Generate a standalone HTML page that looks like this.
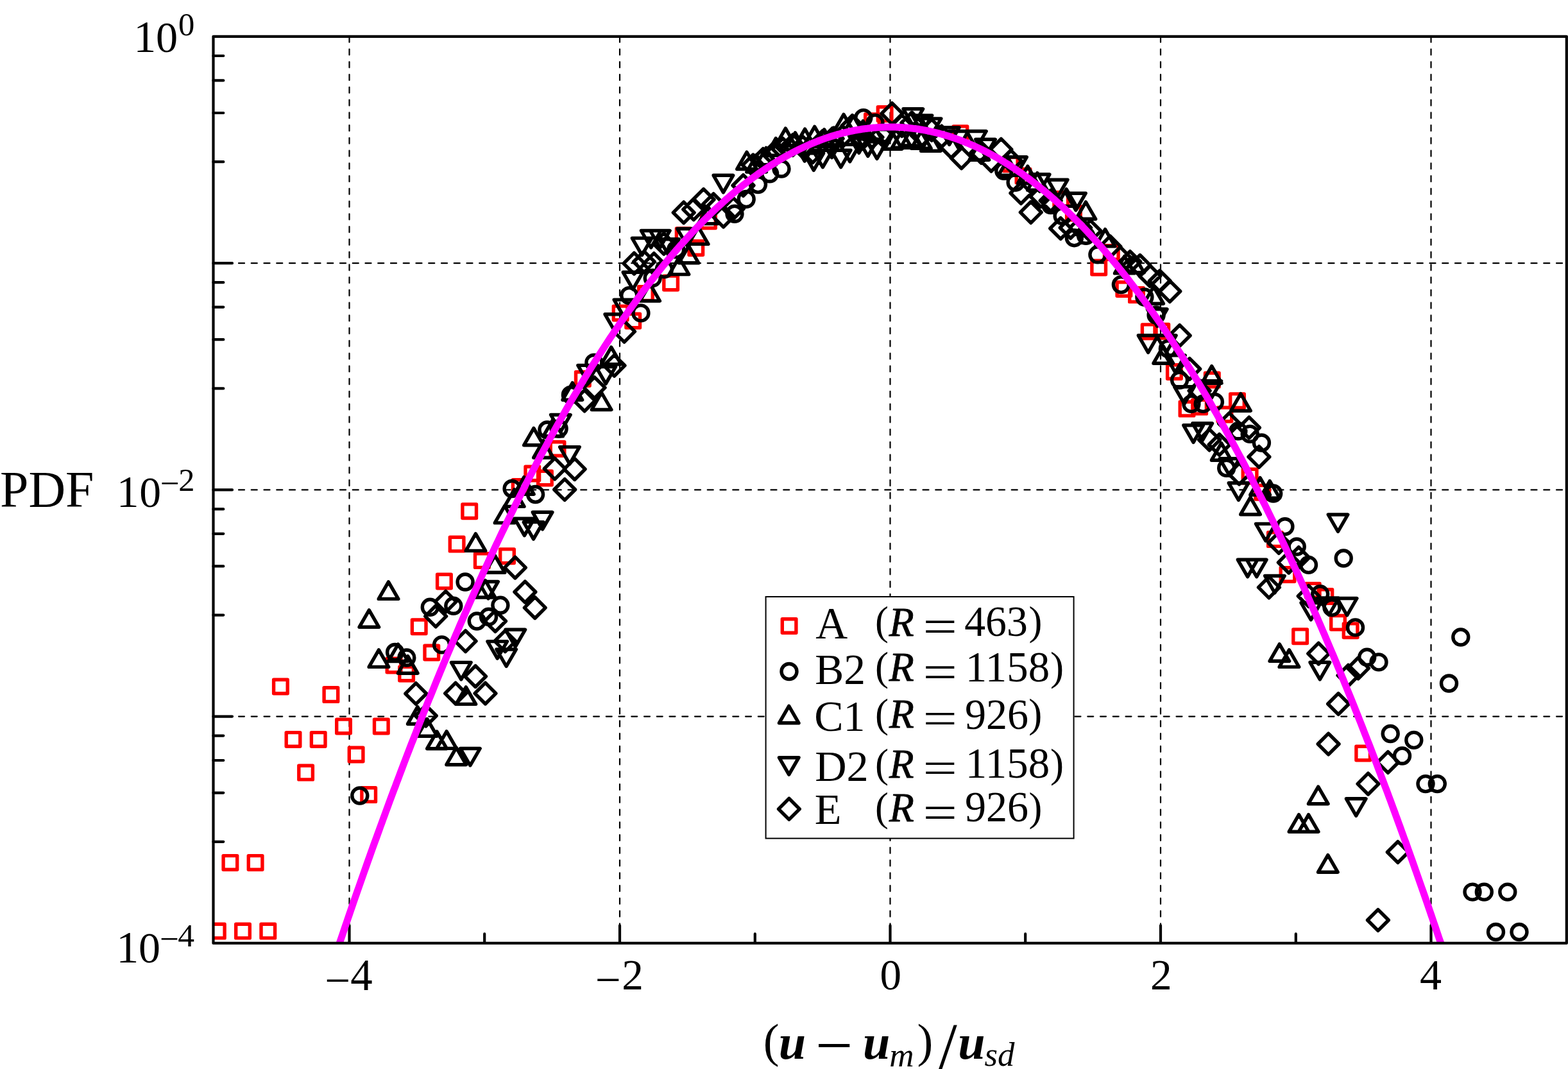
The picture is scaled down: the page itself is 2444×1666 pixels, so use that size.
<!DOCTYPE html><html><head><meta charset="utf-8"><title>PDF plot</title><style>html,body{margin:0;padding:0;background:#fff;overflow:hidden}svg{display:block}text{font-family:"Liberation Serif","Times New Roman",serif;fill:#000}</style></head><body>
<svg width="2444" height="1666" viewBox="0 0 2444 1666">
<rect width="2444" height="1666" fill="#fff"/>
<path d="M544.5 56.8V1469.9M966.0 56.8V1469.9M1387.5 56.8V1469.9M1809.0 56.8V1469.9M2230.5 56.8V1469.9" stroke="#000" stroke-width="2.2" stroke-dasharray="9 10.75" stroke-linecap="round" fill="none"/>
<path d="M332.5 410.2H2441.8M332.5 763.4H2441.8M332.5 1116.6H2441.8" stroke="#000" stroke-width="2.2" stroke-dasharray="9 10.75" stroke-linecap="round" fill="none"/>
<path d="M544.5 1469.9V1442.4M966.0 1469.9V1442.4M1387.5 1469.9V1442.4M1809.0 1469.9V1442.4M2230.5 1469.9V1442.4M755.2 1469.9V1455.4M1176.8 1469.9V1455.4M1598.2 1469.9V1455.4M2019.8 1469.9V1455.4M332.5 87.0H348.3M332.5 125.4H348.3M332.5 176.0H348.3M332.5 252.2H348.3M332.5 410.2H362.0M332.5 440.2H348.3M332.5 478.6H348.3M332.5 529.2H348.3M332.5 605.4H348.3M332.5 763.4H362.0M332.5 793.4H348.3M332.5 831.8H348.3M332.5 882.4H348.3M332.5 958.6H348.3M332.5 1116.6H362.0M332.5 1146.6H348.3M332.5 1185.0H348.3M332.5 1235.6H348.3M332.5 1311.8H348.3" stroke="#000" stroke-width="4.2" stroke-linecap="round" fill="none"/>
<clipPath id="pc"><rect x="332.5" y="56.8" width="2109.3" height="1413.1"/></clipPath>
<g clip-path="url(#pc)" fill="none" stroke-width="5.4" stroke-linejoin="round">
<path stroke="#ff0000" d="M328.5 1440.3h21.6v21.6h-21.6zM348.1 1333.6h21.6v21.6h-21.6zM367.7 1440.3h21.6v21.6h-21.6zM387.3 1333.6h21.6v21.6h-21.6zM407.0 1440.3h21.6v21.6h-21.6zM426.6 1059.2h21.6v21.6h-21.6zM446.2 1141.6h21.6v21.6h-21.6zM465.8 1193.3h21.6v21.6h-21.6zM485.4 1141.6h21.6v21.6h-21.6zM505.1 1071.8h21.6v21.6h-21.6zM524.7 1121.1h21.6v21.6h-21.6zM544.3 1165.2h21.6v21.6h-21.6zM563.9 1227.8h21.6v21.6h-21.6zM583.5 1121.1h21.6v21.6h-21.6zM603.2 1026.2h21.6v21.6h-21.6zM622.8 1039.2h21.6v21.6h-21.6zM642.4 966.0h21.6v21.6h-21.6zM662.0 1006.2h21.6v21.6h-21.6zM681.6 895.2h21.6v21.6h-21.6zM701.3 837.3h21.6v21.6h-21.6zM720.9 785.9h21.6v21.6h-21.6zM740.5 862.8h21.6v21.6h-21.6zM779.7 855.9h21.6v21.6h-21.6zM799.4 747.7h21.6v21.6h-21.6zM819.0 727.2h21.6v21.6h-21.6zM838.6 734.2h21.6v21.6h-21.6zM858.2 688.7h21.6v21.6h-21.6zM897.5 579.7h21.6v21.6h-21.6zM956.3 477.1h21.6v21.6h-21.6zM975.9 489.2h21.6v21.6h-21.6zM995.6 446.8h21.6v21.6h-21.6zM1034.8 430.1h21.6v21.6h-21.6zM1054.4 355.9h21.6v21.6h-21.6zM1074.0 375.6h21.6v21.6h-21.6zM1093.7 333.9h21.6v21.6h-21.6zM1348.7 177.9h21.6v21.6h-21.6zM1368.3 166.7h21.6v21.6h-21.6zM1486.1 196.9h21.6v21.6h-21.6zM1564.5 245.0h21.6v21.6h-21.6zM1584.2 263.5h21.6v21.6h-21.6zM1643.0 299.7h21.6v21.6h-21.6zM1662.6 321.2h21.6v21.6h-21.6zM1701.9 406.2h21.6v21.6h-21.6zM1721.5 382.7h21.6v21.6h-21.6zM1741.1 439.7h21.6v21.6h-21.6zM1760.7 448.8h21.6v21.6h-21.6zM1780.4 505.9h21.6v21.6h-21.6zM1800.0 505.4h21.6v21.6h-21.6zM1819.6 568.7h21.6v21.6h-21.6zM1839.2 626.3h21.6v21.6h-21.6zM1858.8 623.3h21.6v21.6h-21.6zM1878.5 581.3h21.6v21.6h-21.6zM1898.1 635.2h21.6v21.6h-21.6zM1917.7 613.9h21.6v21.6h-21.6zM1937.3 731.3h21.6v21.6h-21.6zM1956.9 756.5h21.6v21.6h-21.6zM1976.6 829.8h21.6v21.6h-21.6zM1996.2 884.7h21.6v21.6h-21.6zM2015.8 980.9h21.6v21.6h-21.6zM2035.4 909.4h21.6v21.6h-21.6zM2055.0 918.8h21.6v21.6h-21.6zM2074.7 959.5h21.6v21.6h-21.6zM2094.3 971.9h21.6v21.6h-21.6zM2113.9 1163.2h21.6v21.6h-21.6z"/>
<path stroke="#000" d="M548.8 1240.0a12.0 12.0 0 1 0 24.0 0a12.0 12.0 0 1 0 -24.0 0zM603.6 1016.5a12.0 12.0 0 1 0 24.0 0a12.0 12.0 0 1 0 -24.0 0zM621.8 1025.0a12.0 12.0 0 1 0 24.0 0a12.0 12.0 0 1 0 -24.0 0zM658.3 946.3a12.0 12.0 0 1 0 24.0 0a12.0 12.0 0 1 0 -24.0 0zM676.6 1004.9a12.0 12.0 0 1 0 24.0 0a12.0 12.0 0 1 0 -24.0 0zM694.8 944.3a12.0 12.0 0 1 0 24.0 0a12.0 12.0 0 1 0 -24.0 0zM713.1 907.0a12.0 12.0 0 1 0 24.0 0a12.0 12.0 0 1 0 -24.0 0zM731.3 968.0a12.0 12.0 0 1 0 24.0 0a12.0 12.0 0 1 0 -24.0 0zM749.6 961.3a12.0 12.0 0 1 0 24.0 0a12.0 12.0 0 1 0 -24.0 0zM767.9 943.3a12.0 12.0 0 1 0 24.0 0a12.0 12.0 0 1 0 -24.0 0zM786.1 761.5a12.0 12.0 0 1 0 24.0 0a12.0 12.0 0 1 0 -24.0 0zM822.6 770.5a12.0 12.0 0 1 0 24.0 0a12.0 12.0 0 1 0 -24.0 0zM840.9 670.0a12.0 12.0 0 1 0 24.0 0a12.0 12.0 0 1 0 -24.0 0zM859.1 668.0a12.0 12.0 0 1 0 24.0 0a12.0 12.0 0 1 0 -24.0 0zM877.4 615.4a12.0 12.0 0 1 0 24.0 0a12.0 12.0 0 1 0 -24.0 0zM913.9 565.2a12.0 12.0 0 1 0 24.0 0a12.0 12.0 0 1 0 -24.0 0zM968.7 460.6a12.0 12.0 0 1 0 24.0 0a12.0 12.0 0 1 0 -24.0 0zM986.9 487.9a12.0 12.0 0 1 0 24.0 0a12.0 12.0 0 1 0 -24.0 0zM1005.2 433.3a12.0 12.0 0 1 0 24.0 0a12.0 12.0 0 1 0 -24.0 0zM1023.4 419.7a12.0 12.0 0 1 0 24.0 0a12.0 12.0 0 1 0 -24.0 0zM1041.7 388.9a12.0 12.0 0 1 0 24.0 0a12.0 12.0 0 1 0 -24.0 0zM1133.0 333.3a12.0 12.0 0 1 0 24.0 0a12.0 12.0 0 1 0 -24.0 0zM1151.2 310.4a12.0 12.0 0 1 0 24.0 0a12.0 12.0 0 1 0 -24.0 0zM1169.5 287.6a12.0 12.0 0 1 0 24.0 0a12.0 12.0 0 1 0 -24.0 0zM1187.7 270.8a12.0 12.0 0 1 0 24.0 0a12.0 12.0 0 1 0 -24.0 0zM1206.0 263.0a12.0 12.0 0 1 0 24.0 0a12.0 12.0 0 1 0 -24.0 0zM1333.8 183.6a12.0 12.0 0 1 0 24.0 0a12.0 12.0 0 1 0 -24.0 0zM1352.0 191.4a12.0 12.0 0 1 0 24.0 0a12.0 12.0 0 1 0 -24.0 0zM1552.8 266.3a12.0 12.0 0 1 0 24.0 0a12.0 12.0 0 1 0 -24.0 0zM1571.1 284.2a12.0 12.0 0 1 0 24.0 0a12.0 12.0 0 1 0 -24.0 0zM1625.8 319.5a12.0 12.0 0 1 0 24.0 0a12.0 12.0 0 1 0 -24.0 0zM1644.1 336.6a12.0 12.0 0 1 0 24.0 0a12.0 12.0 0 1 0 -24.0 0zM1662.4 370.7a12.0 12.0 0 1 0 24.0 0a12.0 12.0 0 1 0 -24.0 0zM1680.6 367.3a12.0 12.0 0 1 0 24.0 0a12.0 12.0 0 1 0 -24.0 0zM1698.9 396.8a12.0 12.0 0 1 0 24.0 0a12.0 12.0 0 1 0 -24.0 0zM1735.4 443.6a12.0 12.0 0 1 0 24.0 0a12.0 12.0 0 1 0 -24.0 0zM1771.9 463.0a12.0 12.0 0 1 0 24.0 0a12.0 12.0 0 1 0 -24.0 0zM1790.1 491.0a12.0 12.0 0 1 0 24.0 0a12.0 12.0 0 1 0 -24.0 0zM1808.4 543.4a12.0 12.0 0 1 0 24.0 0a12.0 12.0 0 1 0 -24.0 0zM1826.6 592.3a12.0 12.0 0 1 0 24.0 0a12.0 12.0 0 1 0 -24.0 0zM1844.9 629.4a12.0 12.0 0 1 0 24.0 0a12.0 12.0 0 1 0 -24.0 0zM1863.2 629.4a12.0 12.0 0 1 0 24.0 0a12.0 12.0 0 1 0 -24.0 0zM1881.4 626.4a12.0 12.0 0 1 0 24.0 0a12.0 12.0 0 1 0 -24.0 0zM1899.7 729.4a12.0 12.0 0 1 0 24.0 0a12.0 12.0 0 1 0 -24.0 0zM1917.9 671.8a12.0 12.0 0 1 0 24.0 0a12.0 12.0 0 1 0 -24.0 0zM1936.2 676.4a12.0 12.0 0 1 0 24.0 0a12.0 12.0 0 1 0 -24.0 0zM1954.4 690.0a12.0 12.0 0 1 0 24.0 0a12.0 12.0 0 1 0 -24.0 0zM1972.7 769.0a12.0 12.0 0 1 0 24.0 0a12.0 12.0 0 1 0 -24.0 0zM1990.9 820.7a12.0 12.0 0 1 0 24.0 0a12.0 12.0 0 1 0 -24.0 0zM2009.2 852.0a12.0 12.0 0 1 0 24.0 0a12.0 12.0 0 1 0 -24.0 0zM2027.5 880.4a12.0 12.0 0 1 0 24.0 0a12.0 12.0 0 1 0 -24.0 0zM2045.7 925.8a12.0 12.0 0 1 0 24.0 0a12.0 12.0 0 1 0 -24.0 0zM2064.0 946.7a12.0 12.0 0 1 0 24.0 0a12.0 12.0 0 1 0 -24.0 0zM2082.2 870.0a12.0 12.0 0 1 0 24.0 0a12.0 12.0 0 1 0 -24.0 0zM2100.5 977.9a12.0 12.0 0 1 0 24.0 0a12.0 12.0 0 1 0 -24.0 0zM2118.7 1024.3a12.0 12.0 0 1 0 24.0 0a12.0 12.0 0 1 0 -24.0 0zM2137.0 1031.9a12.0 12.0 0 1 0 24.0 0a12.0 12.0 0 1 0 -24.0 0zM2155.2 1143.5a12.0 12.0 0 1 0 24.0 0a12.0 12.0 0 1 0 -24.0 0zM2173.5 1178.0a12.0 12.0 0 1 0 24.0 0a12.0 12.0 0 1 0 -24.0 0zM2191.8 1153.4a12.0 12.0 0 1 0 24.0 0a12.0 12.0 0 1 0 -24.0 0zM2210.0 1221.6a12.0 12.0 0 1 0 24.0 0a12.0 12.0 0 1 0 -24.0 0zM2228.3 1221.6a12.0 12.0 0 1 0 24.0 0a12.0 12.0 0 1 0 -24.0 0zM2246.5 1065.0a12.0 12.0 0 1 0 24.0 0a12.0 12.0 0 1 0 -24.0 0zM2264.8 993.0a12.0 12.0 0 1 0 24.0 0a12.0 12.0 0 1 0 -24.0 0zM2283.0 1390.1a12.0 12.0 0 1 0 24.0 0a12.0 12.0 0 1 0 -24.0 0zM2301.3 1390.1a12.0 12.0 0 1 0 24.0 0a12.0 12.0 0 1 0 -24.0 0zM2319.5 1452.5a12.0 12.0 0 1 0 24.0 0a12.0 12.0 0 1 0 -24.0 0zM2337.8 1390.1a12.0 12.0 0 1 0 24.0 0a12.0 12.0 0 1 0 -24.0 0zM2356.0 1452.5a12.0 12.0 0 1 0 24.0 0a12.0 12.0 0 1 0 -24.0 0z"/>
<path stroke="#000" d="M575.3 950.8l15.30 26.50h-30.6zM590.4 1012.9l15.30 26.50h-30.6zM605.5 906.9l15.30 26.50h-30.6zM620.6 1004.0l15.30 26.50h-30.6zM635.7 1022.7l15.30 26.50h-30.6zM650.8 1101.7l15.30 26.50h-30.6zM665.9 1120.7l15.30 26.50h-30.6zM681.0 1140.2l15.30 26.50h-30.6zM696.1 1139.9l15.30 26.50h-30.6zM711.2 1165.2l15.30 26.50h-30.6zM726.3 1070.9l15.30 26.50h-30.6zM741.4 831.9l15.30 26.50h-30.6zM756.5 904.5l15.30 26.50h-30.6zM771.5 865.8l15.30 26.50h-30.6zM786.6 788.4l15.30 26.50h-30.6zM801.7 762.9l15.30 26.50h-30.6zM816.8 743.7l15.30 26.50h-30.6zM831.9 667.3l15.30 26.50h-30.6zM847.0 686.7l15.30 26.50h-30.6zM862.1 653.3l15.30 26.50h-30.6zM892.3 596.7l15.30 26.50h-30.6zM937.6 612.0l15.30 26.50h-30.6zM952.7 541.2l15.30 26.50h-30.6zM1013.1 442.5l15.30 26.50h-30.6zM1058.4 401.1l15.30 26.50h-30.6zM1073.5 383.3l15.30 26.50h-30.6zM1088.6 353.9l15.30 26.50h-30.6zM1103.7 322.1l15.30 26.50h-30.6zM1164.0 237.0l15.30 26.50h-30.6zM1179.1 241.5l15.30 26.50h-30.6zM1194.2 230.3l15.30 26.50h-30.6zM1209.3 215.7l15.30 26.50h-30.6zM1224.4 200.1l15.30 26.50h-30.6zM1239.5 206.8l15.30 26.50h-30.6zM1254.6 201.2l15.30 26.50h-30.6zM1269.7 197.3l15.30 26.50h-30.6zM1284.8 201.8l15.30 26.50h-30.6zM1299.9 199.0l15.30 26.50h-30.6zM1315.0 178.3l15.30 26.50h-30.6zM1330.1 180.5l15.30 26.50h-30.6zM1345.2 188.7l15.30 26.50h-30.6zM1390.5 205.7l15.30 26.50h-30.6zM1405.6 203.8l15.30 26.50h-30.6zM1420.7 200.5l15.30 26.50h-30.6zM1435.8 204.7l15.30 26.50h-30.6zM1450.9 208.7l15.30 26.50h-30.6zM1526.3 222.7l15.30 26.50h-30.6zM1571.6 246.7l15.30 26.50h-30.6zM1601.8 259.2l15.30 26.50h-30.6zM1616.9 269.7l15.30 26.50h-30.6zM1662.2 294.9l15.30 26.50h-30.6zM1692.4 314.8l15.30 26.50h-30.6zM1722.6 357.4l15.30 26.50h-30.6zM1752.8 399.4l15.30 26.50h-30.6zM1767.9 398.3l15.30 26.50h-30.6zM1798.1 446.7l15.30 26.50h-30.6zM1813.2 539.7l15.30 26.50h-30.6zM1888.7 570.7l15.30 26.50h-30.6zM1903.7 690.7l15.30 26.50h-30.6zM1933.9 613.7l15.30 26.50h-30.6zM1949.0 775.2l15.30 26.50h-30.6zM1964.1 744.7l15.30 26.50h-30.6zM1979.2 749.7l15.30 26.50h-30.6zM1994.3 1003.8l15.30 26.50h-30.6zM2009.4 1012.9l15.30 26.50h-30.6zM2024.5 1269.7l15.30 26.50h-30.6zM2039.6 1269.7l15.30 26.50h-30.6zM2054.7 1226.2l15.30 26.50h-30.6zM2069.8 1332.7l15.30 26.50h-30.6z"/>
<path stroke="#000" d="M718.8 1058.9l15.30 -26.50h-30.6zM732.9 1193.0l15.30 -26.50h-30.6zM761.1 933.0l15.30 -26.50h-30.6zM775.2 1026.1l15.30 -26.50h-30.6zM789.2 1038.5l15.30 -26.50h-30.6zM803.3 1007.8l15.30 -26.50h-30.6zM817.4 834.7l15.30 -26.50h-30.6zM831.5 840.1l15.30 -26.50h-30.6zM845.6 824.8l15.30 -26.50h-30.6zM873.8 673.0l15.30 -26.50h-30.6zM887.9 723.1l15.30 -26.50h-30.6zM916.1 595.9l15.30 -26.50h-30.6zM944.2 598.1l15.30 -26.50h-30.6zM958.3 516.3l15.30 -26.50h-30.6zM972.4 493.6l15.30 -26.50h-30.6zM986.5 450.8l15.30 -26.50h-30.6zM1000.6 397.6l15.30 -26.50h-30.6zM1014.7 386.0l15.30 -26.50h-30.6zM1028.8 386.0l15.30 -26.50h-30.6zM1042.9 399.2l15.30 -26.50h-30.6zM1071.0 383.0l15.30 -26.50h-30.6zM1127.4 299.8l15.30 -26.50h-30.6zM1254.2 251.2l15.30 -26.50h-30.6zM1268.3 265.3l15.30 -26.50h-30.6zM1282.4 260.7l15.30 -26.50h-30.6zM1296.5 245.6l15.30 -26.50h-30.6zM1310.6 260.7l15.30 -26.50h-30.6zM1324.7 251.8l15.30 -26.50h-30.6zM1338.8 238.3l15.30 -26.50h-30.6zM1352.8 243.4l15.30 -26.50h-30.6zM1366.9 247.3l15.30 -26.50h-30.6zM1381.0 228.3l15.30 -26.50h-30.6zM1423.3 196.3l15.30 -26.50h-30.6zM1437.4 206.4l15.30 -26.50h-30.6zM1451.5 211.4l15.30 -26.50h-30.6zM1479.7 225.3l15.30 -26.50h-30.6zM1493.8 231.0l15.30 -26.50h-30.6zM1521.9 231.0l15.30 -26.50h-30.6zM1536.0 243.8l15.30 -26.50h-30.6zM1585.0 271.3l15.30 -26.50h-30.6zM1620.6 298.3l15.30 -26.50h-30.6zM1648.7 306.7l15.30 -26.50h-30.6zM1676.9 327.7l15.30 -26.50h-30.6zM1789.6 549.3l15.30 -26.50h-30.6zM1803.7 508.3l15.30 -26.50h-30.6zM1817.8 549.3l15.30 -26.50h-30.6zM1831.9 580.3l15.30 -26.50h-30.6zM1846.0 629.3l15.30 -26.50h-30.6zM1860.1 689.3l15.30 -26.50h-30.6zM1874.2 686.3l15.30 -26.50h-30.6zM1888.3 620.3l15.30 -26.50h-30.6zM1916.5 741.3l15.30 -26.50h-30.6zM1930.5 779.3l15.30 -26.50h-30.6zM1944.6 898.8l15.30 -26.50h-30.6zM1958.7 898.8l15.30 -26.50h-30.6zM1972.8 842.9l15.30 -26.50h-30.6zM1986.9 924.0l15.30 -26.50h-30.6zM2043.3 966.0l15.30 -26.50h-30.6zM2057.3 1058.8l15.30 -26.50h-30.6zM2071.4 958.5l15.30 -26.50h-30.6zM2085.5 828.5l15.30 -26.50h-30.6zM2099.6 959.0l15.30 -26.50h-30.6zM2113.7 1271.3l15.30 -26.50h-30.6z"/>
<path stroke="#000" d="M648.3 1064.6l16.4 16.4l-16.4 16.4l-16.4 -16.4zM663.8 1099.1l16.4 16.4l-16.4 16.4l-16.4 -16.4zM679.2 944.0l16.4 16.4l-16.4 16.4l-16.4 -16.4zM694.7 921.3l16.4 16.4l-16.4 16.4l-16.4 -16.4zM710.1 1064.2l16.4 16.4l-16.4 16.4l-16.4 -16.4zM725.6 982.8l16.4 16.4l-16.4 16.4l-16.4 -16.4zM741.1 1037.7l16.4 16.4l-16.4 16.4l-16.4 -16.4zM756.5 1064.2l16.4 16.4l-16.4 16.4l-16.4 -16.4zM772.0 951.6l16.4 16.4l-16.4 16.4l-16.4 -16.4zM787.4 982.8l16.4 16.4l-16.4 16.4l-16.4 -16.4zM802.9 868.2l16.4 16.4l-16.4 16.4l-16.4 -16.4zM818.4 906.1l16.4 16.4l-16.4 16.4l-16.4 -16.4zM833.8 930.7l16.4 16.4l-16.4 16.4l-16.4 -16.4zM864.7 714.1l16.4 16.4l-16.4 16.4l-16.4 -16.4zM880.2 746.6l16.4 16.4l-16.4 16.4l-16.4 -16.4zM895.7 714.7l16.4 16.4l-16.4 16.4l-16.4 -16.4zM911.1 608.1l16.4 16.4l-16.4 16.4l-16.4 -16.4zM926.6 587.8l16.4 16.4l-16.4 16.4l-16.4 -16.4zM957.5 553.3l16.4 16.4l-16.4 16.4l-16.4 -16.4zM973.0 500.3l16.4 16.4l-16.4 16.4l-16.4 -16.4zM988.4 394.2l16.4 16.4l-16.4 16.4l-16.4 -16.4zM1003.9 391.6l16.4 16.4l-16.4 16.4l-16.4 -16.4zM1019.3 394.7l16.4 16.4l-16.4 16.4l-16.4 -16.4zM1034.8 363.4l16.4 16.4l-16.4 16.4l-16.4 -16.4zM1065.7 314.9l16.4 16.4l-16.4 16.4l-16.4 -16.4zM1081.2 309.9l16.4 16.4l-16.4 16.4l-16.4 -16.4zM1096.6 294.6l16.4 16.4l-16.4 16.4l-16.4 -16.4zM1112.1 301.8l16.4 16.4l-16.4 16.4l-16.4 -16.4zM1127.6 321.0l16.4 16.4l-16.4 16.4l-16.4 -16.4zM1143.0 308.6l16.4 16.4l-16.4 16.4l-16.4 -16.4zM1158.5 272.6l16.4 16.4l-16.4 16.4l-16.4 -16.4zM1173.9 241.0l16.4 16.4l-16.4 16.4l-16.4 -16.4zM1189.4 231.6l16.4 16.4l-16.4 16.4l-16.4 -16.4zM1204.9 223.6l16.4 16.4l-16.4 16.4l-16.4 -16.4zM1220.3 215.6l16.4 16.4l-16.4 16.4l-16.4 -16.4zM1235.8 209.6l16.4 16.4l-16.4 16.4l-16.4 -16.4zM1251.2 212.6l16.4 16.4l-16.4 16.4l-16.4 -16.4zM1266.7 220.8l16.4 16.4l-16.4 16.4l-16.4 -16.4zM1282.2 203.6l16.4 16.4l-16.4 16.4l-16.4 -16.4zM1297.6 199.6l16.4 16.4l-16.4 16.4l-16.4 -16.4zM1313.1 196.2l16.4 16.4l-16.4 16.4l-16.4 -16.4zM1328.5 179.6l16.4 16.4l-16.4 16.4l-16.4 -16.4zM1344.0 199.6l16.4 16.4l-16.4 16.4l-16.4 -16.4zM1359.5 197.4l16.4 16.4l-16.4 16.4l-16.4 -16.4zM1374.9 193.6l16.4 16.4l-16.4 16.4l-16.4 -16.4zM1390.4 160.6l16.4 16.4l-16.4 16.4l-16.4 -16.4zM1405.8 179.6l16.4 16.4l-16.4 16.4l-16.4 -16.4zM1421.3 175.0l16.4 16.4l-16.4 16.4l-16.4 -16.4zM1436.8 194.6l16.4 16.4l-16.4 16.4l-16.4 -16.4zM1452.2 186.2l16.4 16.4l-16.4 16.4l-16.4 -16.4zM1467.7 196.2l16.4 16.4l-16.4 16.4l-16.4 -16.4zM1483.1 213.6l16.4 16.4l-16.4 16.4l-16.4 -16.4zM1498.6 229.8l16.4 16.4l-16.4 16.4l-16.4 -16.4zM1529.5 221.6l16.4 16.4l-16.4 16.4l-16.4 -16.4zM1545.0 234.3l16.4 16.4l-16.4 16.4l-16.4 -16.4zM1560.4 216.4l16.4 16.4l-16.4 16.4l-16.4 -16.4zM1575.9 234.6l16.4 16.4l-16.4 16.4l-16.4 -16.4zM1591.4 284.6l16.4 16.4l-16.4 16.4l-16.4 -16.4zM1606.8 314.5l16.4 16.4l-16.4 16.4l-16.4 -16.4zM1622.3 289.6l16.4 16.4l-16.4 16.4l-16.4 -16.4zM1637.7 296.3l16.4 16.4l-16.4 16.4l-16.4 -16.4zM1653.2 339.6l16.4 16.4l-16.4 16.4l-16.4 -16.4zM1668.7 338.6l16.4 16.4l-16.4 16.4l-16.4 -16.4zM1684.1 338.4l16.4 16.4l-16.4 16.4l-16.4 -16.4zM1699.6 343.6l16.4 16.4l-16.4 16.4l-16.4 -16.4zM1730.5 367.9l16.4 16.4l-16.4 16.4l-16.4 -16.4zM1746.0 385.0l16.4 16.4l-16.4 16.4l-16.4 -16.4zM1761.4 391.6l16.4 16.4l-16.4 16.4l-16.4 -16.4zM1776.9 397.5l16.4 16.4l-16.4 16.4l-16.4 -16.4zM1792.3 413.6l16.4 16.4l-16.4 16.4l-16.4 -16.4zM1807.8 421.6l16.4 16.4l-16.4 16.4l-16.4 -16.4zM1823.3 437.6l16.4 16.4l-16.4 16.4l-16.4 -16.4zM1838.7 506.6l16.4 16.4l-16.4 16.4l-16.4 -16.4zM1854.2 558.6l16.4 16.4l-16.4 16.4l-16.4 -16.4zM1869.6 592.6l16.4 16.4l-16.4 16.4l-16.4 -16.4zM1885.1 669.1l16.4 16.4l-16.4 16.4l-16.4 -16.4zM1900.6 676.6l16.4 16.4l-16.4 16.4l-16.4 -16.4zM1916.0 643.6l16.4 16.4l-16.4 16.4l-16.4 -16.4zM1931.5 722.1l16.4 16.4l-16.4 16.4l-16.4 -16.4zM1946.9 650.1l16.4 16.4l-16.4 16.4l-16.4 -16.4zM1962.4 695.6l16.4 16.4l-16.4 16.4l-16.4 -16.4zM1977.9 899.0l16.4 16.4l-16.4 16.4l-16.4 -16.4zM1993.3 829.6l16.4 16.4l-16.4 16.4l-16.4 -16.4zM2008.8 860.2l16.4 16.4l-16.4 16.4l-16.4 -16.4zM2024.2 852.6l16.4 16.4l-16.4 16.4l-16.4 -16.4zM2039.7 912.6l16.4 16.4l-16.4 16.4l-16.4 -16.4zM2055.2 1002.2l16.4 16.4l-16.4 16.4l-16.4 -16.4zM2070.6 1143.1l16.4 16.4l-16.4 16.4l-16.4 -16.4zM2086.1 1080.6l16.4 16.4l-16.4 16.4l-16.4 -16.4zM2101.5 1036.3l16.4 16.4l-16.4 16.4l-16.4 -16.4zM2117.0 1025.0l16.4 16.4l-16.4 16.4l-16.4 -16.4zM2132.5 1205.2l16.4 16.4l-16.4 16.4l-16.4 -16.4zM2147.9 1417.6l16.4 16.4l-16.4 16.4l-16.4 -16.4zM2163.4 1171.6l16.4 16.4l-16.4 16.4l-16.4 -16.4zM2178.8 1311.6l16.4 16.4l-16.4 16.4l-16.4 -16.4z"/>
</g>
<path clip-path="url(#pc)" d="M481.3 1616.1 L483.4 1609.5 L485.5 1602.9 L487.6 1596.4 L489.7 1589.8 L491.8 1583.3 L493.9 1576.8 L496.0 1570.3 L498.1 1563.8 L500.2 1557.3 L502.3 1550.9 L504.5 1544.4 L506.6 1538.0 L508.7 1531.6 L510.8 1525.2 L512.9 1518.9 L515.0 1512.5 L517.1 1506.2 L519.2 1499.8 L521.3 1493.5 L523.4 1487.2 L525.5 1480.9 L527.6 1474.7 L529.7 1468.4 L531.9 1462.2 L534.0 1456.0 L536.1 1449.8 L538.2 1443.6 L540.3 1437.4 L542.4 1431.2 L544.5 1425.1 L546.6 1419.0 L548.7 1412.9 L550.8 1406.8 L552.9 1400.7 L555.0 1394.6 L557.1 1388.6 L559.3 1382.5 L561.4 1376.5 L563.5 1370.5 L565.6 1364.5 L567.7 1358.5 L569.8 1352.6 L571.9 1346.6 L574.0 1340.7 L576.1 1334.8 L578.2 1328.9 L580.3 1323.0 L582.4 1317.1 L584.5 1311.3 L586.7 1305.5 L588.8 1299.6 L590.9 1293.8 L593.0 1288.0 L595.1 1282.3 L597.2 1276.5 L599.3 1270.8 L601.4 1265.0 L603.5 1259.3 L605.6 1253.6 L607.7 1247.9 L609.8 1242.3 L611.9 1236.6 L614.0 1231.0 L616.2 1225.4 L618.3 1219.7 L620.4 1214.2 L622.5 1208.6 L624.6 1203.0 L626.7 1197.5 L628.8 1191.9 L630.9 1186.4 L633.0 1180.9 L635.1 1175.4 L637.2 1170.0 L639.3 1164.5 L641.4 1159.1 L643.6 1153.7 L645.7 1148.3 L647.8 1142.9 L649.9 1137.5 L652.0 1132.1 L654.1 1126.8 L656.2 1121.5 L658.3 1116.1 L660.4 1110.8 L662.5 1105.6 L664.6 1100.3 L666.7 1095.0 L668.8 1089.8 L671.0 1084.6 L673.1 1079.4 L675.2 1074.2 L677.3 1069.0 L679.4 1063.8 L681.5 1058.7 L683.6 1053.6 L685.7 1048.4 L687.8 1043.3 L689.9 1038.3 L692.0 1033.2 L694.1 1028.1 L696.2 1023.1 L698.3 1018.1 L700.5 1013.1 L702.6 1008.1 L704.7 1003.1 L706.8 998.1 L708.9 993.2 L711.0 988.2 L713.1 983.3 L715.2 978.4 L717.3 973.5 L719.4 968.7 L721.5 963.8 L723.6 959.0 L725.7 954.2 L727.9 949.3 L730.0 944.6 L732.1 939.8 L734.2 935.0 L736.3 930.3 L738.4 925.5 L740.5 920.8 L742.6 916.1 L744.7 911.4 L746.8 906.8 L748.9 902.1 L751.0 897.5 L753.1 892.8 L755.2 888.2 L757.4 883.6 L759.5 879.1 L761.6 874.5 L763.7 869.9 L765.8 865.4 L767.9 860.9 L770.0 856.4 L772.1 851.9 L774.2 847.4 L776.3 843.0 L778.4 838.5 L780.5 834.1 L782.6 829.7 L784.8 825.3 L786.9 820.9 L789.0 816.6 L791.1 812.2 L793.2 807.9 L795.3 803.6 L797.4 799.3 L799.5 795.0 L801.6 790.7 L803.7 786.4 L805.8 782.2 L807.9 778.0 L810.0 773.8 L812.2 769.6 L814.3 765.4 L816.4 761.2 L818.5 757.1 L820.6 752.9 L822.7 748.8 L824.8 744.7 L826.9 740.6 L829.0 736.6 L831.1 732.5 L833.2 728.5 L835.3 724.4 L837.4 720.4 L839.5 716.4 L841.7 712.4 L843.8 708.5 L845.9 704.5 L848.0 700.6 L850.1 696.7 L852.2 692.8 L854.3 688.9 L856.4 685.0 L858.5 681.2 L860.6 677.3 L862.7 673.5 L864.8 669.7 L866.9 665.9 L869.1 662.1 L871.2 658.3 L873.3 654.6 L875.4 650.8 L877.5 647.1 L879.6 643.4 L881.7 639.7 L883.8 636.1 L885.9 632.4 L888.0 628.8 L890.1 625.1 L892.2 621.5 L894.3 617.9 L896.5 614.3 L898.6 610.8 L900.7 607.2 L902.8 603.7 L904.9 600.2 L907.0 596.7 L909.1 593.2 L911.2 589.7 L913.3 586.2 L915.4 582.8 L917.5 579.4 L919.6 575.9 L921.7 572.6 L923.8 569.2 L926.0 565.8 L928.1 562.5 L930.2 559.1 L932.3 555.8 L934.4 552.5 L936.5 549.2 L938.6 545.9 L940.7 542.7 L942.8 539.4 L944.9 536.2 L947.0 533.0 L949.1 529.8 L951.2 526.6 L953.4 523.4 L955.5 520.3 L957.6 517.1 L959.7 514.0 L961.8 510.9 L963.9 507.8 L966.0 504.7 L968.1 501.7 L970.2 498.6 L972.3 495.6 L974.4 492.6 L976.5 489.6 L978.6 486.6 L980.8 483.6 L982.9 480.7 L985.0 477.8 L987.1 474.8 L989.2 471.9 L991.3 469.0 L993.4 466.2 L995.5 463.3 L997.6 460.5 L999.7 457.6 L1001.8 454.8 L1003.9 452.0 L1006.0 449.2 L1008.1 446.5 L1010.3 443.7 L1012.4 441.0 L1014.5 438.2 L1016.6 435.5 L1018.7 432.8 L1020.8 430.2 L1022.9 427.5 L1025.0 424.9 L1027.1 422.2 L1029.2 419.6 L1031.3 417.0 L1033.4 414.4 L1035.5 411.9 L1037.7 409.3 L1039.8 406.8 L1041.9 404.2 L1044.0 401.7 L1046.1 399.2 L1048.2 396.8 L1050.3 394.3 L1052.4 391.9 L1054.5 389.4 L1056.6 387.0 L1058.7 384.6 L1060.8 382.2 L1062.9 379.9 L1065.1 377.5 L1067.2 375.2 L1069.3 372.8 L1071.4 370.5 L1073.5 368.2 L1075.6 366.0 L1077.7 363.7 L1079.8 361.4 L1081.9 359.2 L1084.0 357.0 L1086.1 354.8 L1088.2 352.6 L1090.3 350.4 L1092.5 348.3 L1094.6 346.1 L1096.7 344.0 L1098.8 341.9 L1100.9 339.8 L1103.0 337.7 L1105.1 335.7 L1107.2 333.6 L1109.3 331.6 L1111.4 329.6 L1113.5 327.6 L1115.6 325.6 L1117.7 323.6 L1119.8 321.7 L1122.0 319.7 L1124.1 317.8 L1126.2 315.9 L1128.3 314.0 L1130.4 312.1 L1132.5 310.2 L1134.6 308.4 L1136.7 306.6 L1138.8 304.8 L1140.9 302.9 L1143.0 301.2 L1145.1 299.4 L1147.2 297.6 L1149.4 295.9 L1151.5 294.2 L1153.6 292.5 L1155.7 290.8 L1157.8 289.1 L1159.9 287.4 L1162.0 285.8 L1164.1 284.1 L1166.2 282.5 L1168.3 280.9 L1170.4 279.3 L1172.5 277.8 L1174.6 276.2 L1176.8 274.7 L1178.9 273.1 L1181.0 271.6 L1183.1 270.1 L1185.2 268.6 L1187.3 267.2 L1189.4 265.7 L1191.5 264.3 L1193.6 262.9 L1195.7 261.5 L1197.8 260.1 L1199.9 258.7 L1202.0 257.4 L1204.1 256.0 L1206.3 254.7 L1208.4 253.4 L1210.5 252.1 L1212.6 250.8 L1214.7 249.5 L1216.8 248.3 L1218.9 247.0 L1221.0 245.8 L1223.1 244.6 L1225.2 243.4 L1227.3 242.3 L1229.4 241.1 L1231.5 240.0 L1233.7 238.8 L1235.8 237.7 L1237.9 236.6 L1240.0 235.5 L1242.1 234.5 L1244.2 233.4 L1246.3 232.4 L1248.4 231.4 L1250.5 230.4 L1252.6 229.4 L1254.7 228.4 L1256.8 227.4 L1258.9 226.5 L1261.0 225.6 L1263.2 224.7 L1265.3 223.8 L1267.4 222.9 L1269.5 222.0 L1271.6 221.2 L1273.7 220.3 L1275.8 219.5 L1277.9 218.7 L1280.0 217.9 L1282.1 217.1 L1284.2 216.4 L1286.3 215.6 L1288.4 214.9 L1290.6 214.2 L1292.7 213.5 L1294.8 212.8 L1296.9 212.1 L1299.0 211.5 L1301.1 210.9 L1303.2 210.2 L1305.3 209.6 L1307.4 209.0 L1309.5 208.5 L1311.6 207.9 L1313.7 207.4 L1315.8 206.8 L1318.0 206.3 L1320.1 205.8 L1322.2 205.3 L1324.3 204.9 L1326.4 204.4 L1328.5 204.0 L1330.6 203.5 L1332.7 203.1 L1334.8 202.8 L1336.9 202.4 L1339.0 202.0 L1341.1 201.7 L1343.2 201.3 L1345.3 201.0 L1347.5 200.7 L1349.6 200.4 L1351.7 200.2 L1353.8 199.9 L1355.9 199.7 L1358.0 199.5 L1360.1 199.3 L1362.2 199.1 L1364.3 198.9 L1366.4 198.7 L1368.5 198.6 L1370.6 198.4 L1372.7 198.3 L1374.9 198.2 L1377.0 198.2 L1379.1 198.1 L1381.2 198.0 L1383.3 198.0 L1385.4 198.0 L1387.5 198.0 L1389.6 198.0 L1391.7 198.0 L1393.8 198.0 L1395.9 198.1 L1398.0 198.2 L1400.1 198.2 L1402.3 198.3 L1404.4 198.4 L1406.5 198.6 L1408.6 198.7 L1410.7 198.9 L1412.8 199.1 L1414.9 199.3 L1417.0 199.5 L1419.1 199.7 L1421.2 199.9 L1423.3 200.2 L1425.4 200.4 L1427.5 200.7 L1429.7 201.0 L1431.8 201.3 L1433.9 201.7 L1436.0 202.0 L1438.1 202.4 L1440.2 202.8 L1442.3 203.1 L1444.4 203.5 L1446.5 204.0 L1448.6 204.4 L1450.7 204.9 L1452.8 205.3 L1454.9 205.8 L1457.0 206.3 L1459.2 206.8 L1461.3 207.4 L1463.4 207.9 L1465.5 208.5 L1467.6 209.0 L1469.7 209.6 L1471.8 210.2 L1473.9 210.9 L1476.0 211.5 L1478.1 212.1 L1480.2 212.8 L1482.3 213.5 L1484.4 214.2 L1486.6 214.9 L1488.7 215.6 L1490.8 216.4 L1492.9 217.1 L1495.0 217.9 L1497.1 218.7 L1499.2 219.5 L1501.3 220.3 L1503.4 221.2 L1505.5 222.0 L1507.6 222.9 L1509.7 223.8 L1511.8 224.7 L1514.0 225.6 L1516.1 226.5 L1518.2 227.4 L1520.3 228.4 L1522.4 229.4 L1524.5 230.4 L1526.6 231.4 L1528.7 232.4 L1530.8 233.4 L1532.9 234.5 L1535.0 235.5 L1537.1 236.6 L1539.2 237.7 L1541.3 238.8 L1543.5 240.0 L1545.6 241.1 L1547.7 242.3 L1549.8 243.4 L1551.9 244.6 L1554.0 245.8 L1556.1 247.0 L1558.2 248.3 L1560.3 249.5 L1562.4 250.8 L1564.5 252.1 L1566.6 253.4 L1568.7 254.7 L1570.9 256.0 L1573.0 257.4 L1575.1 258.7 L1577.2 260.1 L1579.3 261.5 L1581.4 262.9 L1583.5 264.3 L1585.6 265.7 L1587.7 267.2 L1589.8 268.6 L1591.9 270.1 L1594.0 271.6 L1596.1 273.1 L1598.2 274.7 L1600.4 276.2 L1602.5 277.8 L1604.6 279.3 L1606.7 280.9 L1608.8 282.5 L1610.9 284.1 L1613.0 285.8 L1615.1 287.4 L1617.2 289.1 L1619.3 290.8 L1621.4 292.5 L1623.5 294.2 L1625.6 295.9 L1627.8 297.6 L1629.9 299.4 L1632.0 301.2 L1634.1 302.9 L1636.2 304.8 L1638.3 306.6 L1640.4 308.4 L1642.5 310.2 L1644.6 312.1 L1646.7 314.0 L1648.8 315.9 L1650.9 317.8 L1653.0 319.7 L1655.2 321.7 L1657.3 323.6 L1659.4 325.6 L1661.5 327.6 L1663.6 329.6 L1665.7 331.6 L1667.8 333.6 L1669.9 335.7 L1672.0 337.7 L1674.1 339.8 L1676.2 341.9 L1678.3 344.0 L1680.4 346.1 L1682.5 348.3 L1684.7 350.4 L1686.8 352.6 L1688.9 354.8 L1691.0 357.0 L1693.1 359.2 L1695.2 361.4 L1697.3 363.7 L1699.4 366.0 L1701.5 368.2 L1703.6 370.5 L1705.7 372.8 L1707.8 375.2 L1709.9 377.5 L1712.1 379.9 L1714.2 382.2 L1716.3 384.6 L1718.4 387.0 L1720.5 389.4 L1722.6 391.9 L1724.7 394.3 L1726.8 396.8 L1728.9 399.2 L1731.0 401.7 L1733.1 404.2 L1735.2 406.8 L1737.3 409.3 L1739.5 411.9 L1741.6 414.4 L1743.7 417.0 L1745.8 419.6 L1747.9 422.2 L1750.0 424.9 L1752.1 427.5 L1754.2 430.2 L1756.3 432.8 L1758.4 435.5 L1760.5 438.2 L1762.6 441.0 L1764.7 443.7 L1766.8 446.5 L1769.0 449.2 L1771.1 452.0 L1773.2 454.8 L1775.3 457.6 L1777.4 460.5 L1779.5 463.3 L1781.6 466.2 L1783.7 469.0 L1785.8 471.9 L1787.9 474.8 L1790.0 477.8 L1792.1 480.7 L1794.2 483.6 L1796.4 486.6 L1798.5 489.6 L1800.6 492.6 L1802.7 495.6 L1804.8 498.6 L1806.9 501.7 L1809.0 504.7 L1811.1 507.8 L1813.2 510.9 L1815.3 514.0 L1817.4 517.1 L1819.5 520.3 L1821.6 523.4 L1823.8 526.6 L1825.9 529.8 L1828.0 533.0 L1830.1 536.2 L1832.2 539.4 L1834.3 542.7 L1836.4 545.9 L1838.5 549.2 L1840.6 552.5 L1842.7 555.8 L1844.8 559.1 L1846.9 562.5 L1849.0 565.8 L1851.2 569.2 L1853.3 572.6 L1855.4 575.9 L1857.5 579.4 L1859.6 582.8 L1861.7 586.2 L1863.8 589.7 L1865.9 593.2 L1868.0 596.7 L1870.1 600.2 L1872.2 603.7 L1874.3 607.2 L1876.4 610.8 L1878.5 614.3 L1880.7 617.9 L1882.8 621.5 L1884.9 625.1 L1887.0 628.8 L1889.1 632.4 L1891.2 636.1 L1893.3 639.7 L1895.4 643.4 L1897.5 647.1 L1899.6 650.8 L1901.7 654.6 L1903.8 658.3 L1905.9 662.1 L1908.1 665.9 L1910.2 669.7 L1912.3 673.5 L1914.4 677.3 L1916.5 681.2 L1918.6 685.0 L1920.7 688.9 L1922.8 692.8 L1924.9 696.7 L1927.0 700.6 L1929.1 704.5 L1931.2 708.5 L1933.3 712.4 L1935.5 716.4 L1937.6 720.4 L1939.7 724.4 L1941.8 728.5 L1943.9 732.5 L1946.0 736.6 L1948.1 740.6 L1950.2 744.7 L1952.3 748.8 L1954.4 752.9 L1956.5 757.1 L1958.6 761.2 L1960.7 765.4 L1962.8 769.6 L1965.0 773.8 L1967.1 778.0 L1969.2 782.2 L1971.3 786.4 L1973.4 790.7 L1975.5 795.0 L1977.6 799.3 L1979.7 803.6 L1981.8 807.9 L1983.9 812.2 L1986.0 816.6 L1988.1 820.9 L1990.2 825.3 L1992.4 829.7 L1994.5 834.1 L1996.6 838.5 L1998.7 843.0 L2000.8 847.4 L2002.9 851.9 L2005.0 856.4 L2007.1 860.9 L2009.2 865.4 L2011.3 869.9 L2013.4 874.5 L2015.5 879.1 L2017.6 883.6 L2019.8 888.2 L2021.9 892.8 L2024.0 897.5 L2026.1 902.1 L2028.2 906.8 L2030.3 911.4 L2032.4 916.1 L2034.5 920.8 L2036.6 925.5 L2038.7 930.3 L2040.8 935.0 L2042.9 939.8 L2045.0 944.6 L2047.1 949.3 L2049.3 954.2 L2051.4 959.0 L2053.5 963.8 L2055.6 968.7 L2057.7 973.5 L2059.8 978.4 L2061.9 983.3 L2064.0 988.2 L2066.1 993.2 L2068.2 998.1 L2070.3 1003.1 L2072.4 1008.1 L2074.5 1013.1 L2076.7 1018.1 L2078.8 1023.1 L2080.9 1028.1 L2083.0 1033.2 L2085.1 1038.3 L2087.2 1043.3 L2089.3 1048.4 L2091.4 1053.6 L2093.5 1058.7 L2095.6 1063.8 L2097.7 1069.0 L2099.8 1074.2 L2101.9 1079.4 L2104.1 1084.6 L2106.2 1089.8 L2108.3 1095.0 L2110.4 1100.3 L2112.5 1105.6 L2114.6 1110.8 L2116.7 1116.1 L2118.8 1121.5 L2120.9 1126.8 L2123.0 1132.1 L2125.1 1137.5 L2127.2 1142.9 L2129.3 1148.3 L2131.4 1153.7 L2133.6 1159.1 L2135.7 1164.5 L2137.8 1170.0 L2139.9 1175.4 L2142.0 1180.9 L2144.1 1186.4 L2146.2 1191.9 L2148.3 1197.5 L2150.4 1203.0 L2152.5 1208.6 L2154.6 1214.2 L2156.7 1219.7 L2158.8 1225.4 L2161.0 1231.0 L2163.1 1236.6 L2165.2 1242.3 L2167.3 1247.9 L2169.4 1253.6 L2171.5 1259.3 L2173.6 1265.0 L2175.7 1270.8 L2177.8 1276.5 L2179.9 1282.3 L2182.0 1288.0 L2184.1 1293.8 L2186.2 1299.6 L2188.3 1305.5 L2190.5 1311.3 L2192.6 1317.1 L2194.7 1323.0 L2196.8 1328.9 L2198.9 1334.8 L2201.0 1340.7 L2203.1 1346.6 L2205.2 1352.6 L2207.3 1358.5 L2209.4 1364.5 L2211.5 1370.5 L2213.6 1376.5 L2215.7 1382.5 L2217.9 1388.6 L2220.0 1394.6 L2222.1 1400.7 L2224.2 1406.8 L2226.3 1412.9 L2228.4 1419.0 L2230.5 1425.1 L2232.6 1431.2 L2234.7 1437.4 L2236.8 1443.6 L2238.9 1449.8 L2241.0 1456.0 L2243.1 1462.2 L2245.3 1468.4 L2247.4 1474.7 L2249.5 1480.9 L2251.6 1487.2 L2253.7 1493.5 L2255.8 1499.8 L2257.9 1506.2 L2260.0 1512.5 L2262.1 1518.9 L2264.2 1525.2 L2266.3 1531.6 L2268.4 1538.0 L2270.5 1544.4 L2272.7 1550.9 L2274.8 1557.3 L2276.9 1563.8 L2279.0 1570.3 L2281.1 1576.8 L2283.2 1583.3 L2285.3 1589.8 L2287.4 1596.4 L2289.5 1602.9 L2291.6 1609.5 L2293.7 1616.1" stroke="#ff00ff" stroke-width="11" fill="none"/>
<path d="M332.5 56.8H2441.8V1469.9H332.5Z" stroke="#000" stroke-width="4.2" stroke-linejoin="round" fill="none"/>
<rect x="1193.6" y="930" width="480" height="376.6" fill="#fff" stroke="#000" stroke-width="2"/>
<path d="M1219.3 964.7h21.6v21.6h-21.6z" stroke="#ff0000" stroke-width="5.4" stroke-linejoin="round" fill="none"/>
<path d="M1218.0 1046.5a12.0 12.0 0 1 0 24.0 0a12.0 12.0 0 1 0 -24.0 0z" stroke="#000" stroke-width="5.4" stroke-linejoin="round" fill="none"/>
<path d="M1229.7 1100.3l15.30 26.50h-30.6z" stroke="#000" stroke-width="5.4" stroke-linejoin="round" fill="none"/>
<path d="M1229.7 1207.2l15.30 -26.50h-30.6z" stroke="#000" stroke-width="5.4" stroke-linejoin="round" fill="none"/>
<path d="M1229.9 1244.4l16.4 16.4l-16.4 16.4l-16.4 -16.4z" stroke="#000" stroke-width="5.4" stroke-linejoin="round" fill="none"/>
<text x="208.26" y="81.00" font-size="70.15" >1</text>
<text x="242.99" y="80.62" font-size="68.25" >0</text>
<text x="278.00" y="55.38" font-size="50.60" >0</text>
<text x="181.78" y="790.40" font-size="69.70" >1</text>
<text x="217.13" y="790.03" font-size="67.67" >0</text>
<text x="250.00" y="771.30" font-size="53.00" >−</text>
<text x="278.34" y="765.10" font-size="50.49" >2</text>
<text x="181.26" y="1499.90" font-size="70.15" >1</text>
<text x="216.11" y="1499.63" font-size="67.96" >0</text>
<text x="249.15" y="1480.80" font-size="53.00" >−</text>
<text x="277.25" y="1474.60" font-size="51.59" >4</text>
<text x="506.10" y="1551.80" font-size="71.00" >−</text>
<text x="546.25" y="1542.70" font-size="68.78" >4</text>
<text x="927.55" y="1550.80" font-size="71.00" >−</text>
<text x="969.30" y="1542.20" font-size="67.32" >2</text>
<text x="1371.48" y="1542.04" font-size="67.08" >0</text>
<text x="1792.90" y="1542.20" font-size="67.32" >2</text>
<text x="2213.06" y="1542.40" font-size="68.17" >4</text>
<text x="-0.04" y="789.50" font-size="79.89" >PDF</text>
<text x="1189.74" y="1647.45" font-size="74.44" >(</text>
<text x="1213.69" y="1649.51" font-size="76.15" font-style="italic" font-weight="bold">u</text>
<text x="0" y="0" font-size="104.00"  transform="translate(1271.02 1664.40) scale(0.9959 1)">−</text>
<text x="1345.04" y="1649.51" font-size="76.15" font-style="italic" font-weight="bold">u</text>
<text x="1386.26" y="1662.00" font-size="53.03" font-style="italic">m</text>
<text x="1429.50" y="1647.45" font-size="74.44" >)</text>
<text x="1461.80" y="1668.70" font-size="108.00" >/</text>
<text x="1493.24" y="1649.51" font-size="76.15" font-style="italic" font-weight="bold">u</text>
<text x="1534.50" y="1661.45" font-size="52.78" font-style="italic">sd</text>
<text x="1271.21" y="994.90" font-size="69.24" >A</text>
<text x="1363.99" y="988.85" font-size="62.78" >(</text>
<text x="1385.84" y="990.69" font-size="63.73" font-style="italic" stroke="#000" stroke-width="0.8">R</text>
<text x="0" y="0" font-size="73.50"  transform="translate(1438.54 1000.95) scale(1.2900 1)">=</text>
<text x="0" y="0" font-size="67.67"  transform="translate(1503.16 991.23) scale(0.9720 1)">463</text>
<text x="1603.38" y="988.85" font-size="62.78" >)</text>
<text x="1270.27" y="1066.00" font-size="67.47" >B2</text>
<text x="1363.89" y="1059.83" font-size="63.33" >(</text>
<text x="1385.79" y="1061.49" font-size="63.88" font-style="italic" stroke="#000" stroke-width="0.8">R</text>
<text x="0" y="0" font-size="73.50"  transform="translate(1438.54 1071.85) scale(1.2900 1)">=</text>
<text x="0" y="0" font-size="67.67"  transform="translate(1504.77 1061.83) scale(0.9888 1)">1158</text>
<text x="1637.05" y="1059.83" font-size="63.33" >)</text>
<text x="1269.29" y="1138.73" font-size="67.96" >C1</text>
<text x="1363.91" y="1132.85" font-size="63.22" >(</text>
<text x="1385.88" y="1134.29" font-size="63.58" font-style="italic" stroke="#000" stroke-width="0.8">R</text>
<text x="0" y="0" font-size="71.17"  transform="translate(1438.54 1144.15) scale(1.3323 1)">=</text>
<text x="0" y="0" font-size="68.54"  transform="translate(1503.91 1135.52) scale(0.9636 1)">926</text>
<text x="1603.32" y="1132.85" font-size="63.22" >)</text>
<text x="1270.25" y="1216.60" font-size="68.36" >D2</text>
<text x="1363.91" y="1210.85" font-size="63.22" >(</text>
<text x="1386.05" y="1211.90" font-size="63.00" font-style="italic" stroke="#000" stroke-width="0.8">R</text>
<text x="0" y="0" font-size="69.61"  transform="translate(1438.54 1221.42) scale(1.3621 1)">=</text>
<text x="0" y="0" font-size="66.65"  transform="translate(1504.77 1212.25) scale(1.0039 1)">1158</text>
<text x="1637.07" y="1210.85" font-size="63.22" >)</text>
<text x="1269.85" y="1284.10" font-size="68.33" >E</text>
<text x="1364.03" y="1278.50" font-size="62.56" >(</text>
<text x="1385.88" y="1279.79" font-size="63.58" font-style="italic" stroke="#000" stroke-width="0.8">R</text>
<text x="0" y="0" font-size="73.50"  transform="translate(1438.54 1291.15) scale(1.2900 1)">=</text>
<text x="0" y="0" font-size="67.52"  transform="translate(1503.91 1280.34) scale(0.9782 1)">926</text>
<text x="1603.42" y="1278.50" font-size="62.56" >)</text>
</svg></body></html>
